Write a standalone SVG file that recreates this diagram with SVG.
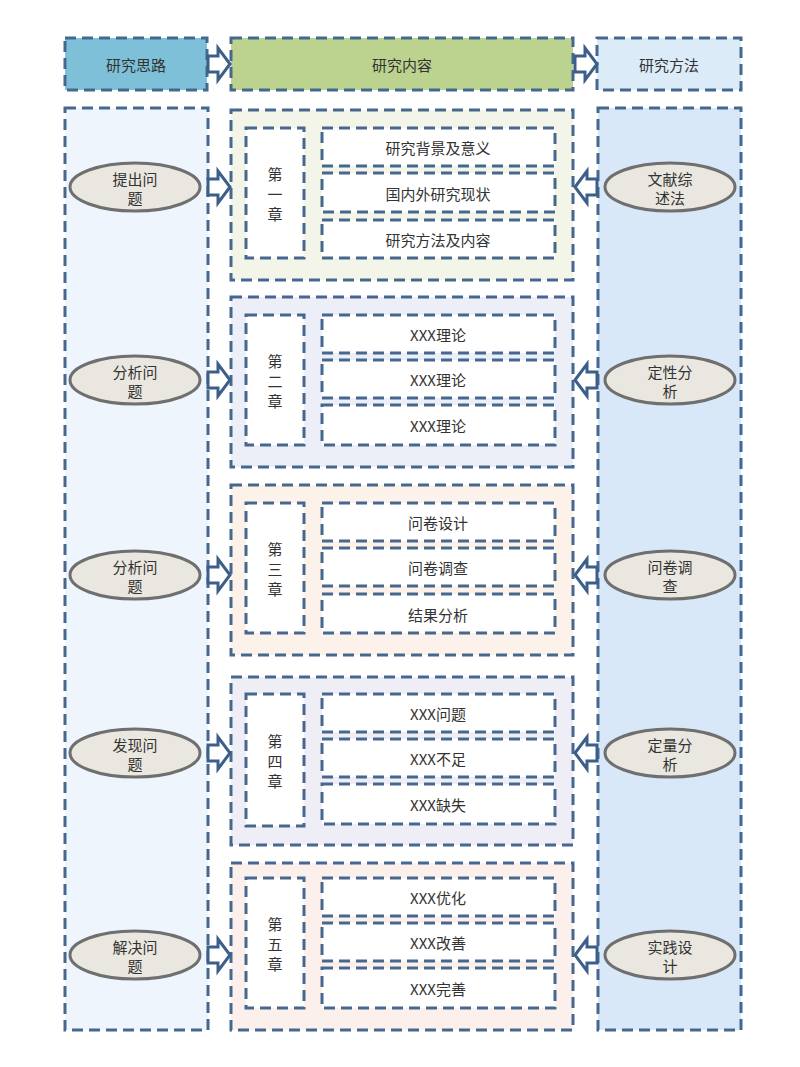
<svg xmlns="http://www.w3.org/2000/svg" width="800" height="1067" viewBox="0 0 800 1067">
<style>
.d{stroke:#46688f;stroke-width:3;stroke-dasharray:11 6;}
.w{fill:#fff;}
.t{font-family:"Noto Sans CJK SC","Liberation Sans",sans-serif;font-size:15px;fill:#333;text-anchor:middle;dominant-baseline:central;}
.e{fill:#e9e7df;stroke:#6f6f6f;stroke-width:3;}
.a{fill:#fff;stroke:#3c5f8a;stroke-width:3;stroke-linejoin:miter;}
</style>
<defs>
<path id="ar" d="M0,-8 H10 V-16 L22,0 L10,16 V8 H0 Z"/>
</defs>
<rect width="800" height="1067" fill="#fff"/>
<g id="header">
<rect x="65" y="38" width="142" height="52" fill="#7ec0d8" class="d"/>
<text class="t" x="136" y="64">研究思路</text>
<rect x="231" y="38" width="342" height="52" fill="#bcd38f" class="d"/>
<text class="t" x="402" y="64">研究内容</text>
<rect x="597" y="38" width="144" height="52" fill="#dcebf8" class="d"/>
<text class="t" x="669" y="64">研究方法</text>
</g>
<g id="columns">
<rect x="65" y="108" width="143" height="922" fill="#eef5fc" class="d"/>
<rect x="598" y="108" width="143" height="922" fill="#d8e8f8" class="d"/>
</g>
<g id="ch1">
<rect x="231" y="110" width="342" height="170" fill="#f2f5e8" class="d"/>
<rect x="246" y="128" width="58" height="130" class="w d"/>
<text class="t" x="275" y="173">第</text><text class="t" x="275" y="193">一</text><text class="t" x="275" y="213">章</text>
<rect x="322" y="128" width="233" height="38" class="w d"/><text class="t" x="438" y="147">研究背景及意义</text>
<rect x="322" y="173" width="233" height="39" class="w d"/><text class="t" x="438" y="193">国内外研究现状</text>
<rect x="322" y="220" width="233" height="38" class="w d"/><text class="t" x="438" y="239">研究方法及内容</text>
</g>
<g id="ch2">
<rect x="231" y="297" width="342" height="170" fill="#eceef8" class="d"/>
<rect x="246" y="315" width="58" height="130" class="w d"/>
<text class="t" x="275" y="360">第</text><text class="t" x="275" y="380">二</text><text class="t" x="275" y="400">章</text>
<rect x="322" y="315" width="233" height="38" class="w d"/><text class="t" x="438" y="334">XXX理论</text>
<rect x="322" y="360" width="233" height="38" class="w d"/><text class="t" x="438" y="379">XXX理论</text>
<rect x="322" y="405" width="233" height="40" class="w d"/><text class="t" x="438" y="425">XXX理论</text>
</g>
<g id="ch3">
<rect x="231" y="485" width="342" height="170" fill="#fcf2ea" class="d"/>
<rect x="246" y="503" width="58" height="130" class="w d"/>
<text class="t" x="275" y="548">第</text><text class="t" x="275" y="568">三</text><text class="t" x="275" y="588">章</text>
<rect x="322" y="503" width="233" height="38" class="w d"/><text class="t" x="438" y="522">问卷设计</text>
<rect x="322" y="548" width="233" height="38" class="w d"/><text class="t" x="438" y="567">问卷调查</text>
<rect x="322" y="594" width="233" height="39" class="w d"/><text class="t" x="438" y="614">结果分析</text>
</g>
<g id="ch4">
<rect x="231" y="677" width="342" height="168" fill="#efeef7" class="d"/>
<rect x="246" y="694" width="58" height="132" class="w d"/>
<text class="t" x="275" y="740">第</text><text class="t" x="275" y="760">四</text><text class="t" x="275" y="780">章</text>
<rect x="322" y="694" width="233" height="38" class="w d"/><text class="t" x="438" y="713">XXX问题</text>
<rect x="322" y="739" width="233" height="38" class="w d"/><text class="t" x="438" y="758">XXX不足</text>
<rect x="322" y="784" width="233" height="40" class="w d"/><text class="t" x="438" y="804">XXX缺失</text>
</g>
<g id="ch5">
<rect x="231" y="863" width="342" height="167" fill="#fcf0ec" class="d"/>
<rect x="246" y="878" width="58" height="130" class="w d"/>
<text class="t" x="275" y="923">第</text><text class="t" x="275" y="943">五</text><text class="t" x="275" y="963">章</text>
<rect x="322" y="878" width="233" height="38" class="w d"/><text class="t" x="438" y="897">XXX优化</text>
<rect x="322" y="923" width="233" height="38" class="w d"/><text class="t" x="438" y="942">XXX改善</text>
<rect x="322" y="968" width="233" height="40" class="w d"/><text class="t" x="438" y="988">XXX完善</text>
</g>
<g id="left-ellipses">
<ellipse class="e" cx="135" cy="187" rx="65" ry="24"/><text class="t" x="135" y="178">提出问</text><text class="t" x="135" y="197">题</text>
<ellipse class="e" cx="135" cy="380" rx="65" ry="24"/><text class="t" x="135" y="371">分析问</text><text class="t" x="135" y="390">题</text>
<ellipse class="e" cx="135" cy="575" rx="65" ry="24"/><text class="t" x="135" y="566">分析问</text><text class="t" x="135" y="585">题</text>
<ellipse class="e" cx="135" cy="753" rx="65" ry="24"/><text class="t" x="135" y="744">发现问</text><text class="t" x="135" y="763">题</text>
<ellipse class="e" cx="135" cy="955" rx="65" ry="24"/><text class="t" x="135" y="946">解决问</text><text class="t" x="135" y="965">题</text>
</g>
<g id="right-ellipses">
<ellipse class="e" cx="670" cy="187" rx="65" ry="24"/><text class="t" x="670" y="178">文献综</text><text class="t" x="670" y="197">述法</text>
<ellipse class="e" cx="670" cy="380" rx="65" ry="24"/><text class="t" x="670" y="371">定性分</text><text class="t" x="670" y="390">析</text>
<ellipse class="e" cx="670" cy="575" rx="65" ry="24"/><text class="t" x="670" y="566">问卷调</text><text class="t" x="670" y="585">查</text>
<ellipse class="e" cx="670" cy="753" rx="65" ry="24"/><text class="t" x="670" y="744">定量分</text><text class="t" x="670" y="763">析</text>
<ellipse class="e" cx="670" cy="955" rx="65" ry="24"/><text class="t" x="670" y="946">实践设</text><text class="t" x="670" y="965">计</text>
</g>
<g id="connectors">
<use href="#ar" class="a" x="208" y="64"/>
<use href="#ar" class="a" x="575" y="64"/>
<use href="#ar" class="a" x="208" y="187"/>
<use href="#ar" class="a" x="208" y="380"/>
<use href="#ar" class="a" x="208" y="575"/>
<use href="#ar" class="a" x="208" y="753"/>
<use href="#ar" class="a" x="208" y="955"/>
<use href="#ar" class="a" transform="translate(597,187) scale(-1,1)"/>
<use href="#ar" class="a" transform="translate(597,380) scale(-1,1)"/>
<use href="#ar" class="a" transform="translate(597,575) scale(-1,1)"/>
<use href="#ar" class="a" transform="translate(597,753) scale(-1,1)"/>
<use href="#ar" class="a" transform="translate(597,955) scale(-1,1)"/>
</g>
</svg>
